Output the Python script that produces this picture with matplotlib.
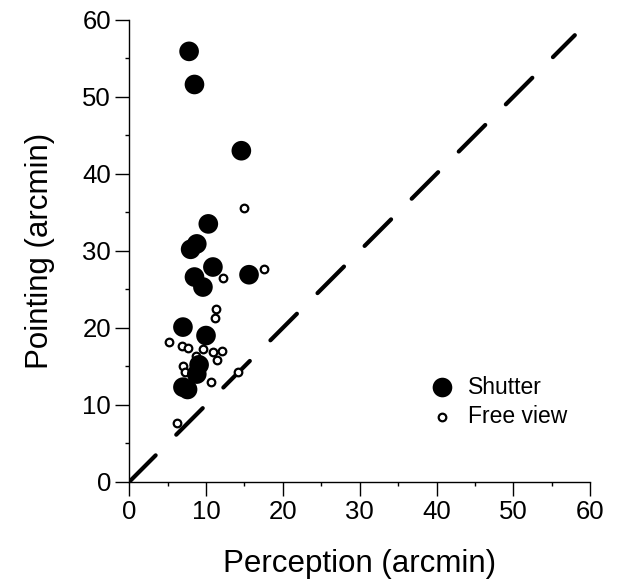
import matplotlib.pyplot as plt

plt.rcParams['font.family'] = ['Liberation Sans', 'DejaVu Sans']

# Shutter condition (filled)
shutter_x = [7.8, 8.5, 14.6, 10.3, 8.8, 8.0, 10.9, 8.5, 9.6, 15.6,
             7.0, 10.0, 9.1, 8.8, 7.0, 7.6]
shutter_y = [55.9, 51.6, 43.0, 33.5, 30.9, 30.2, 27.9, 26.6, 25.3, 26.9,
             20.1, 19.0, 15.2, 14.0, 12.3, 12.0]

# Free view condition (open)
free_x = [15.0, 17.6, 12.2, 11.3, 11.2, 5.2, 6.9, 7.7, 9.6, 10.9,
          12.1, 11.4, 8.7, 7.0, 7.3, 10.7, 14.1, 6.2, 6.6]
free_y = [35.6, 27.7, 26.5, 22.5, 21.3, 18.1, 17.6, 17.4, 17.3, 16.9,
          17.0, 15.8, 16.4, 15.0, 14.3, 13.0, 14.3, 7.6, 12.5]

diag = [0, 58]


def main():
    fig = plt.figure(figsize=(6.18, 5.82), dpi=100)
    ax = fig.add_axes([0.209, 0.172, 0.746, 0.794])

    ax.plot(diag, diag, color='black', lw=3, dashes=(9, 7),
            solid_capstyle='round', dash_capstyle='round', zorder=1)
    ax.scatter(shutter_x, shutter_y, s=200, c='black', edgecolors='none',
               zorder=3, label='Shutter')
    ax.scatter(free_x, free_y, s=30, facecolors='white', edgecolors='black',
               linewidths=1.6, zorder=2, label='Free view')

    ax.set_xlim(0, 60)
    ax.set_ylim(0, 60)
    ax.set_xticks(range(0, 61, 10))
    ax.set_yticks(range(0, 61, 10))
    ax.set_xticks(range(5, 60, 10), minor=True)
    ax.set_yticks(range(5, 60, 10), minor=True)
    ax.tick_params(which='major', direction='out', length=10, width=1,
                   labelsize=18.5, pad=3)
    ax.tick_params(which='minor', direction='out', length=3, width=1)

    for side in ['top', 'right']:
        ax.spines[side].set_visible(False)
    for side in ['left', 'bottom']:
        ax.spines[side].set_linewidth(1)

    ax.set_xlabel('Perception (arcmin)', fontsize=22.5, labelpad=18)
    ax.set_ylabel('Pointing (arcmin)', fontsize=22.5, labelpad=20)

    ax.legend(loc='upper left', bbox_to_anchor=(0.61, 0.25), frameon=False,
              fontsize=16.5, handletextpad=0.1, labelspacing=0.3,
              borderaxespad=0, scatterpoints=1)

    fig.savefig('out.png', dpi=100)


if __name__ == "__main__":
    main()
